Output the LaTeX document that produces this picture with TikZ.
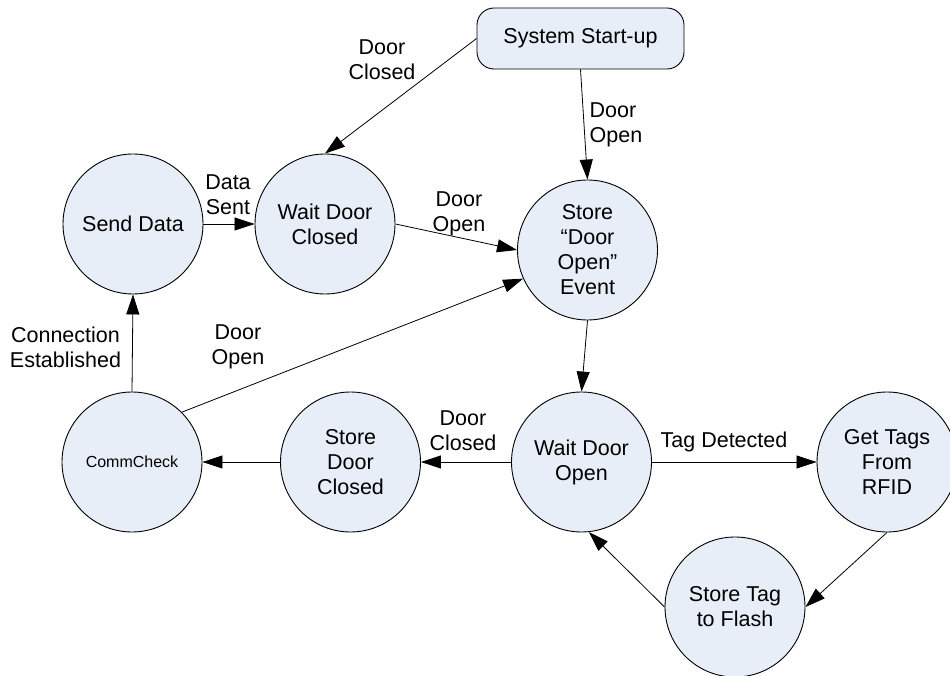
\documentclass[tikz,border=0pt]{standalone}
\usepackage{fontspec}
\setmainfont{Liberation Sans}
\usetikzlibrary{arrows.meta}
\definecolor{statefill}{RGB}{232,238,248}
\tikzset{
  state/.style={circle, draw=black, line width=0.9pt, fill=statefill,
    minimum size=140pt, inner sep=0pt, align=center,
    font=\fontsize{21.5}{25}\selectfont},
  startbox/.style={rectangle, rounded corners=17pt, draw=black, line width=0.9pt,
    fill=statefill, minimum width=207pt, minimum height=61pt, inner sep=0pt,
    font=\fontsize{21.5}{25}\selectfont},
  trans/.style={line width=0.8pt, -{Triangle[length=20pt,width=13pt]}},
  lbl/.style={align=center, inner sep=0pt, font=\fontsize{21.5}{25}\selectfont},
}
\begin{document}
\begin{tikzpicture}[x=1pt,y=-1pt]
\useasboundingbox (0,0) rectangle (950,676);

% states
\node[startbox] (start) at (580.5,38.5) {System Start-up};
\node[state] (send)   at (133,224) {Send Data};
\node[state] (wdc)    at (325,224) {Wait Door\\Closed};
\node[state] (sopen)  at (587.5,250) {Store\\``Door\\Open''\\Event};
\node[state, font=\fontsize{16}{19}\selectfont] (comm) at (132,462) {CommCheck};
\node[state] (sdc)    at (350.5,462) {Store\\Door\\Closed};
\node[state] (wdo)    at (581.5,462) {Wait Door\\Open};
\node[state] (tags)   at (887,462) {Get Tags\\From\\RFID};
\node[state] (flash)  at (735,607) {Store Tag\\to Flash};

% transitions
\draw[trans] (start.west) -- (wdc.north);
\draw[trans] (start.south) -- (sopen.north);
\draw[trans] (send.east) -- (wdc.west);
\draw[trans] (wdc.east) -- (sopen.west);
\draw[trans] (comm.45) -- (sopen.204);
\draw[trans] (comm.north) -- (send.south);
\draw[trans] (sopen.south) -- (wdo.north);
\draw[trans] (wdo.west) -- (sdc.east);
\draw[trans] (sdc.west) -- (comm.east);
\draw[trans] (wdo.east) -- (tags.west);
\draw[trans] (tags.south) -- (flash.east);
\draw[trans] (flash.west) -- (wdo.-84);

% transition labels
\node[lbl] (l1) at (382,60) {Door\\Closed};
\node[lbl, align=left] (l2) at (616,125) {Door\\Open};
\node[lbl] (l3) at (228,195) {Data\\Sent};
\node[lbl] (l4) at (459,214) {Door\\Open};
\node[lbl] (l5) at (65.5,347) {Connection\\Established};
\node[lbl] (l6) at (238,347) {Door\\Open};
\node[lbl] (l7) at (463,431) {Door\\Closed};
\node[lbl] (l8) at (724,442) {Tag Detected};
\end{tikzpicture}
\end{document}
